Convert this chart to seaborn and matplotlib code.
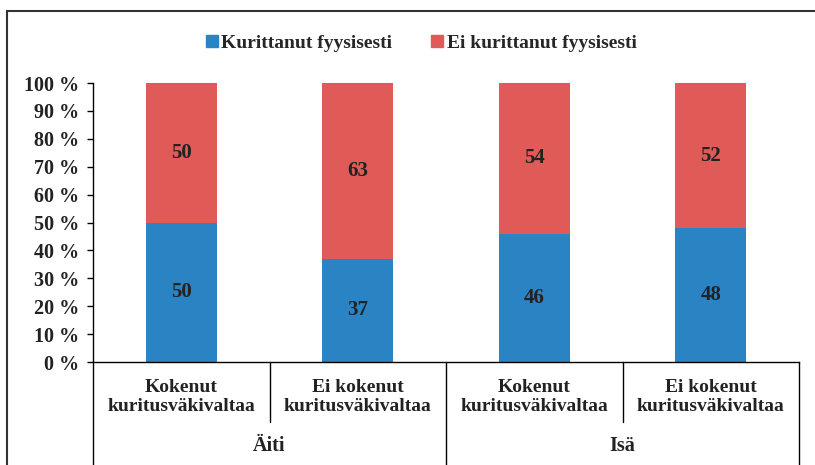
import pandas as pd
import numpy as np
import matplotlib.pyplot as plt
import seaborn as sns
from matplotlib.patches import Rectangle, Patch
import matplotlib.transforms as mtransforms

# data
groups = ['Äiti', 'Äiti', 'Isä', 'Isä']
subgroups = ['Kokenut\nkuritusväkivaltaa', 'Ei kokenut\nkuritusväkivaltaa',
             'Kokenut\nkuritusväkivaltaa', 'Ei kokenut\nkuritusväkivaltaa']
kurittanut = [50, 37, 46, 48]
ei_kurittanut = [50, 63, 54, 52]
series_names = ['Kurittanut fyysisesti', 'Ei kurittanut fyysisesti']
y_ticks = [0, 10, 20, 30, 40, 50, 60, 70, 80, 90, 100]

blue = '#2a84c4'
red = '#e05a57'

df = pd.DataFrame({
    'key': [g + ' ' + s for g, s in zip(groups, subgroups)],
    'kurittanut': kurittanut,
    'ei': ei_kurittanut,
})
df['total'] = df['kurittanut'] + df['ei']

sns.set_style('white')
plt.rcParams['font.family'] = ['Liberation Serif', 'DejaVu Serif']
plt.rcParams['font.weight'] = 'bold'

fig = plt.figure(figsize=(8.15, 4.65), dpi=100)
ax = fig.add_axes([93 / 815, 1 - 362 / 465, (799 - 93) / 815, (362 - 83) / 465])

# stacked bars: total in red, blue part on top of it
sns.barplot(data=df, x='key', y='total', color=red, width=0.4, saturation=1,
            linewidth=0, ax=ax)
sns.barplot(data=df, x='key', y='kurittanut', color=blue, width=0.4, saturation=1,
            linewidth=0, ax=ax)

bars = ax.patches
n = len(df)
for i in range(n):
    xc = bars[i].get_x() + bars[i].get_width() / 2
    b = df['kurittanut'][i]
    r = df['ei'][i]
    ax.text(xc, b + r / 2, str(r), ha='center', va='center', fontsize=15, fontweight='bold', color='#222222')
    ax.text(xc, b / 2, str(b), ha='center', va='center', fontsize=15, fontweight='bold', color='#222222')

ax.set_ylim(0, 100)
ax.set_xlim(-0.5, n - 0.5)
ax.set_yticks(y_ticks)
ax.set_yticklabels([f'{t} %' for t in y_ticks], fontsize=14.5, fontweight='bold', color='#222222')
ax.tick_params(axis='y', left=True, length=4, width=1, color='black', pad=6)
ax.set_xticks(range(n))
ax.set_xticklabels(subgroups, fontsize=14, fontweight='bold', color='#222222', linespacing=1.1)
ax.tick_params(axis='x', bottom=False, pad=9)
ax.set_xlabel('')
ax.set_ylabel('')
for s in ['top', 'right']:
    ax.spines[s].set_visible(False)
for s in ['left', 'bottom']:
    ax.spines[s].set_color('black')
    ax.spines[s].set_linewidth(1)

# separators under the x axis
trans = mtransforms.blended_transform_factory(ax.transData, ax.transAxes)
for xb in np.arange(-0.5, n, 1.0):
    long_line = int(round(xb + 0.5)) % 2 == 0
    y_end = -0.38 if long_line else -0.215
    ax.plot([xb, xb], [0, y_end], color='black', lw=1, transform=trans, clip_on=False)

# group labels
for gi, g in enumerate(['Äiti', 'Isä']):
    ax.text(gi * 2 + 0.5, -0.3, g, transform=trans, ha='center', va='center',
            fontsize=14.5, fontweight='bold', color='#222222')

# legend
handles = [Patch(color=blue, label=series_names[0]), Patch(color=red, label=series_names[1])]
fig.legend(handles=handles, loc='center', bbox_to_anchor=(0.517, 0.907), ncol=2, frameon=False,
           prop={'family': 'Liberation Serif', 'weight': 'bold', 'size': 14},
           handlelength=0.6, handleheight=0.6, handletextpad=0.2, columnspacing=2.0)

# outer frame
fig.patches.append(Rectangle((7 / 815, -0.1), 1.2, 1 - 11 / 465 + 0.1, transform=fig.transFigure,
                             fill=False, edgecolor='#333333', lw=1.5))

fig.savefig('out.png', dpi=100)
